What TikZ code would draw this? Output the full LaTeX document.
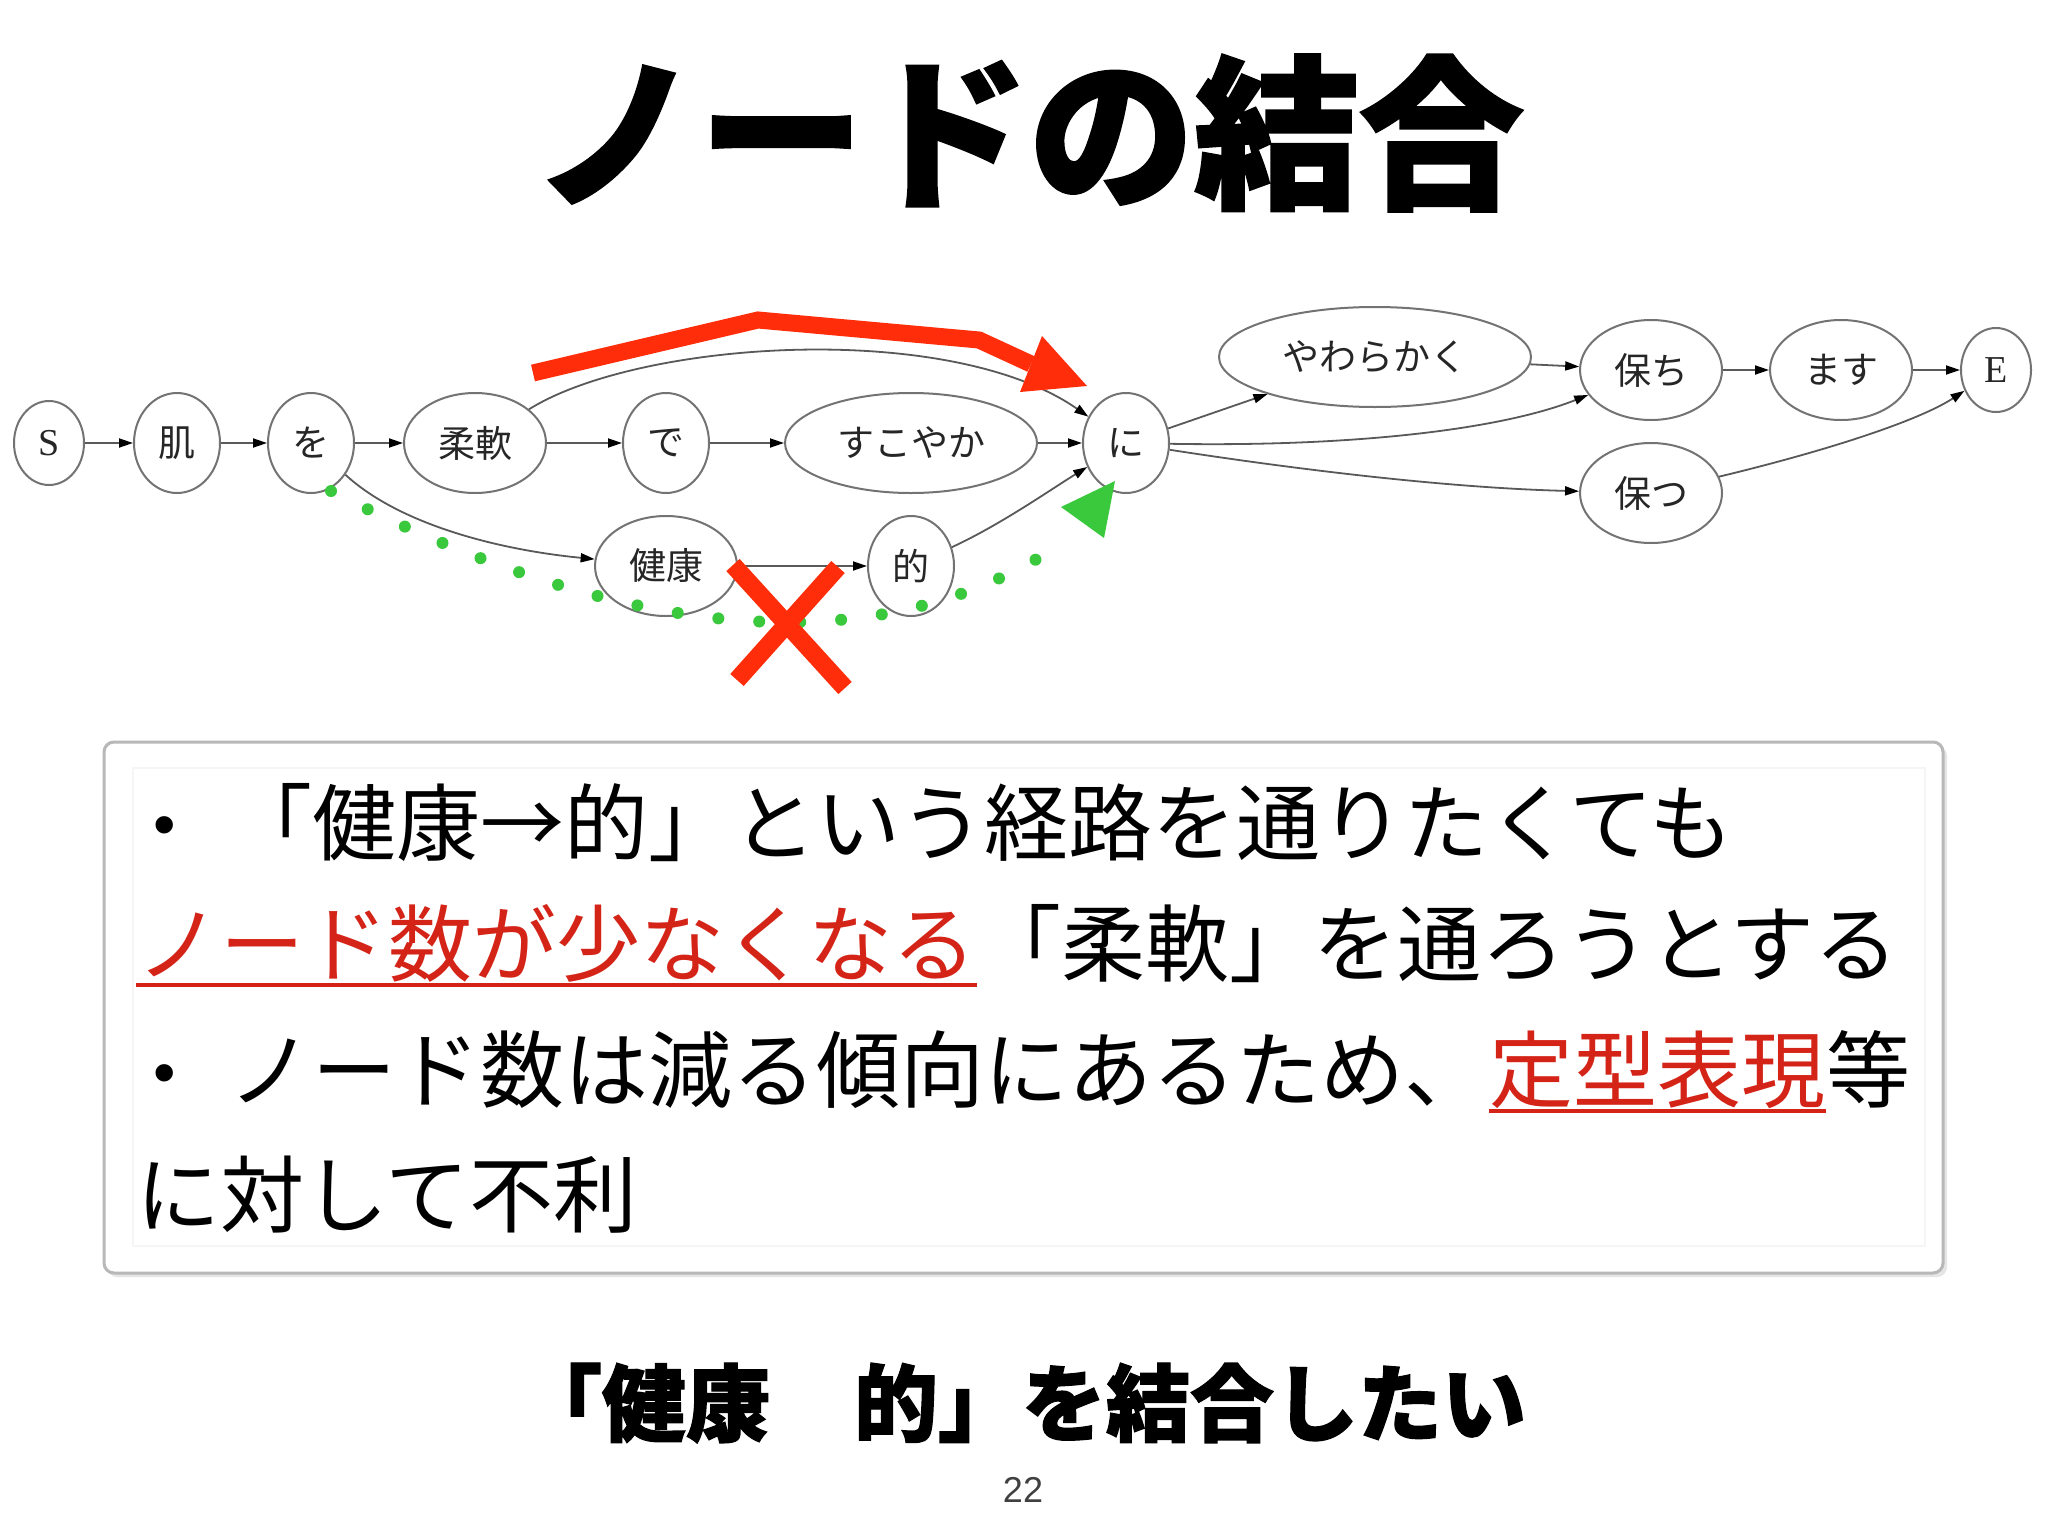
\documentclass[tikz,border=0pt]{standalone}
\usepackage{fontspec}
\setmainfont{Noto Sans CJK JP}
\newfontfamily\heavyjp{Noto Sans CJK JP}[BoldFeatures={FakeBold=1.5}]
\newfontfamily\serifen{Liberation Serif}
\newfontfamily\sansen{Liberation Sans}
\usetikzlibrary{shapes.geometric,arrows.meta}

\definecolor{markred}{RGB}{255,45,10}
\definecolor{textred}{RGB}{212,36,24}
\definecolor{markgreen}{RGB}{58,200,60}

\begin{document}
\begin{tikzpicture}[x=0.5pt, y=-0.5pt,
  word/.style={ellipse, draw=black!55, line width=1pt, inner sep=0pt,
    minimum width=43pt, minimum height=50pt, text=black!85,
    font=\fontsize{18.5}{20}\selectfont},
  wideword/.style={word, minimum width=71pt},
  endword/.style={word, minimum width=35pt, minimum height=42pt,
    font=\serifen\fontsize{19}{20}\selectfont},
  edge/.style={draw=black!65, line width=0.9pt,
    -{Triangle[length=7pt, width=4.5pt, color=black]}},
  bodyline/.style={anchor=west, inner sep=0pt, text height=37pt,
    text depth=5pt, font=\fontsize{42}{42}\selectfont},
  dotmark/.style={inner sep=0pt, font=\sansen\fontsize{32}{32}\selectfont}]
  \fill[white] (0,0) rectangle (2048,1536);
  \useasboundingbox (0,0) rectangle (2048,1536);

  \node[font=\heavyjp\bfseries\fontsize{82.5}{84}\selectfont] (title) at (1029,133) {ノードの結合};

  % lattice
  \node[endword] (S) at (49,443) {S};
  \node[word] (hada) at (177,443) {肌};
  \node[word] (wo) at (311,443) {を};
  \node[wideword] (juunan) at (475,443) {柔軟};
  \node[word] (de) at (666,443) {で};
  \node[word, minimum width=126pt] (sukoyaka) at (911,443) {すこやか};
  \node[word] (ni) at (1126,443) {に};
  \node[wideword] (kenkou) at (666,566) {健康};
  \node[word] (teki) at (911,566) {的};
  \node[word, minimum width=156pt] (yawarakaku) at (1375,357) {やわらかく};
  \node[wideword] (tamochi) at (1651,370) {保ち};
  \node[wideword] (masu) at (1841,370) {ます};
  \node[endword] (E) at (1996,370) {E};
  \node[wideword] (tamotsu) at (1651,493) {保つ};

  \draw[edge] (S) -- (hada);
  \draw[edge] (hada) -- (wo);
  \draw[edge] (wo) -- (juunan);
  \draw[edge] (juunan) -- (de);
  \draw[edge] (de) -- (sukoyaka);
  \draw[edge] (sukoyaka) -- (ni);
  \draw[edge] (juunan) .. controls (640,340) and (950,320) .. (ni);
  \draw[edge] (wo) .. controls (400,525) and (500,550) .. (kenkou);
  \draw[edge] (kenkou) -- (teki);
  \draw[edge] (teki) .. controls (1000,525) and (1050,490) .. (ni);
  \draw[edge] (ni) -- (yawarakaku);
  \draw[edge] (yawarakaku) -- (tamochi);
  \draw[edge] (ni) .. controls (1350,447) and (1500,430) .. (tamochi);
  \draw[edge] (ni) .. controls (1300,470) and (1450,488) .. (tamotsu);
  \draw[edge] (tamochi) -- (masu);
  \draw[edge] (masu) -- (E);
  \draw[edge] (tamotsu) .. controls (1830,450) and (1920,420) .. (E);

  % marks
  \draw[markred, line width=8.5pt] (533,373) -- (758,320) -- (979,340) -- (1031,364);
  \fill[markred] (1042,336) -- (1087,386) -- (1020,392) -- cycle;
  \draw[markgreen, line width=6pt, line cap=round, dash pattern=on 0pt off 20.5pt]
    (331,491) .. controls (620,639) and (870,668) .. (1058,546);
  \fill[markgreen] (1115,481) -- (1104,538) -- (1061,507) -- cycle;
  \draw[markred, line width=9pt] (733,565) -- (845,688) (838,567) -- (737,680);

  % box
  \fill[black!10, rounded corners=5pt] (107,746) rectangle (1947,1277);
  \filldraw[fill=white, draw=black!28, line width=1.5pt, rounded corners=5pt] (104,742) rectangle (1943,1273);
  \draw[black!4, line width=1pt] (133,768) rectangle (1925,1246);

  \node[dotmark] (b1) at (165,832) {•};
  \node[bodyline] (l1) at (228,822) {「健康→的」という経路を通りたくても};
  \node[bodyline, text=textred] (l2a) at (136,943) {ノード数が少なくなる};
  \node[bodyline] (l2b) at (l2a.east) {「柔軟」を通ろうとする};
  \draw[textred, line width=2pt] (l2a.south west) -- (l2a.south east);
  \node[dotmark] (b3) at (165,1080) {•};
  \node[bodyline] (l3a) at (228,1069) {ノード数は減る傾向にあるため、};
  \node[bodyline, text=textred] (l3b) at (l3a.east) {定型表現};
  \node[bodyline] (l3c) at (l3b.east) {等};
  \draw[textred, line width=2pt] (l3b.south west) -- (l3b.south east);
  \node[bodyline] (l4) at (136,1194) {に対して不利};

  \node[font=\heavyjp\bfseries\fontsize{42}{42}\selectfont] (goal) at (1022,1403) {「健康　的」を結合したい};
  \node[font=\sansen\fontsize{18}{20}\selectfont, text=black!75] (page) at (1023,1490) {22};
\end{tikzpicture}
\end{document}
